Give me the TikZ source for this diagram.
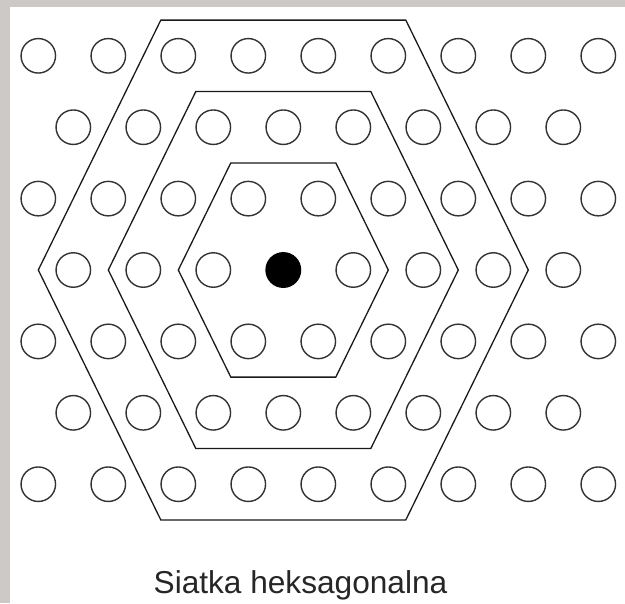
\documentclass[tikz,border=0pt]{standalone}
\usepackage{fontspec}
\setsansfont{Liberation Sans}
\definecolor{framegray}{RGB}{205,201,198}

\begin{document}
\begin{tikzpicture}[x=0.03cm, y=-0.03cm,
  site/.style={circle, draw=black!80, line width=1.2pt, inner sep=0pt, minimum size=34.5*0.03cm},
  centresite/.style={site, fill=black, draw=black},
  hexline/.style={draw=black!90, line width=1.1pt, line join=miter}]
\useasboundingbox (0,0) rectangle (625,603);
\fill[white] (0,0) rectangle (625,603);
\fill[framegray] (0,0) rectangle (625,7);
\fill[framegray] (0,0) rectangle (10,603);
\begin{scope}[shift={(283.3,270)}]
\foreach \j in {-3,-1,1,3}
  \foreach \i [count=\n] in {-3.5,-2.5,...,4.5}
    \node[site] (s\j/\n) at ({70*\i},{71.4*\j}) {};
\foreach \j in {-2,2}
  \foreach \i [count=\n] in {-3,...,4}
    \node[site] (s\j/\n) at ({70*\i},{71.4*\j}) {};
\foreach \i [count=\n] in {-3,-2,-1,1,2,3,4}
  \node[site] (s0/\n) at ({70*\i},0) {};
\node[centresite] (centre) at (0,0) {};
\foreach \k in {1.5,2.5,3.5}
  \draw[hexline] ({-70*\k},0) -- ({-35*\k},{-71.4*\k}) -- ({35*\k},{-71.4*\k})
    -- ({70*\k},0) -- ({35*\k},{71.4*\k}) -- ({-35*\k},{71.4*\k}) -- cycle;
\end{scope}
\node[anchor=base, inner sep=0pt, font=\sffamily\fontsize{27pt}{30pt}\selectfont, text=black!85] (caption) at (300.5,593) {Siatka heksagonalna};
\end{tikzpicture}
\end{document}
